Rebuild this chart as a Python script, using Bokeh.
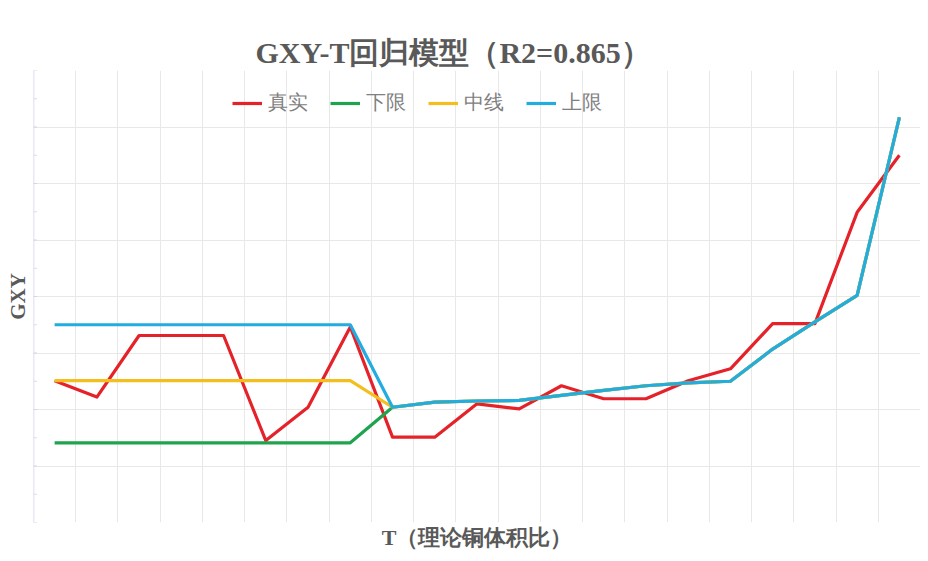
from bokeh.plotting import figure
from bokeh.models import (Range1d, FixedTicker, Legend, LegendItem, Title, Span,
                          LinearAxis)
from bokeh.embed import file_html
from bokeh.resources import INLINE

# categories (sample index, no tick labels shown in the original)
samples = list(range(21))

real  = [2.51, 2.22, 3.31, 3.31, 3.31, 1.45, 2.04, 3.46, 1.51, 1.51, 2.10,
         2.01, 2.42, 2.19, 2.19, 2.51, 2.72, 3.52, 3.52, 5.49, 6.50]
lower = [1.41, 1.41, 1.41, 1.41, 1.41, 1.41, 1.41, 1.41, 2.04, 2.13, 2.15,
         2.16, 2.25, 2.34, 2.42, 2.47, 2.50, 3.07, 3.55, 4.02, 7.17]
mid   = [2.51, 2.51, 2.51, 2.51, 2.51, 2.51, 2.51, 2.51, 2.04, 2.13, 2.15,
         2.16, 2.25, 2.34, 2.42, 2.47, 2.50, 3.07, 3.55, 4.02, 7.17]
upper = [3.50, 3.50, 3.50, 3.50, 3.50, 3.50, 3.50, 3.50, 2.04, 2.13, 2.15,
         2.16, 2.25, 2.34, 2.42, 2.47, 2.50, 3.07, 3.55, 4.02, 7.17]

series_names = ["真实", "下限", "中线", "上限"]
series_colors = ["#e5222a", "#1fa34e", "#f4bf1c", "#22ace0"]

y_ticks = [0, 1, 2, 3, 4, 5, 6, 7, 8]
y_minor = [0.5, 1.5, 2.5, 3.5, 4.5, 5.5, 6.5, 7.5]
x_bounds = [i - 0.5 for i in range(22)]

title_text = "GXY-T回归模型（R2=0.865）"
x_label = "T（理论铜体积比）"
y_label = "GXY"

p = figure(width=920, height=553, output_backend="svg", toolbar_location=None,
           title=None,
           x_range=Range1d(-0.5, 20.5), y_range=Range1d(0, 8),
           min_border_left=33, min_border_right=0, min_border_top=70,
           min_border_bottom=31)

p.outline_line_color = None
p.background_fill_color = "white"
p.border_fill_color = "white"

# axes hidden (no tick labels in the original); grids kept
p.xaxis.visible = False
p.yaxis.visible = False
p.xgrid.ticker = FixedTicker(ticks=x_bounds)
p.ygrid.ticker = FixedTicker(ticks=y_ticks)
p.xgrid.grid_line_color = "#e8e8e8"
p.ygrid.grid_line_color = "#e8e8e8"

# empty spacer between plot area and title (no ticks, no labels)
spacer = LinearAxis(ticker=FixedTicker(ticks=[]), axis_line_color=None,
                    major_tick_line_color="white", minor_tick_line_color=None,
                    major_tick_in=0, major_tick_out=34, minor_tick_out=0,
                    major_label_standoff=0)
p.add_layout(spacer, "above")

title = Title(text=title_text, align="left", offset=222, vertical_align="top",
              standoff=0, text_font="Liberation Serif", text_font_size="30px",
              text_font_style="bold", text_color="#595959")
p.add_layout(title, "above")

# left axis line and its small ticks
p.add_layout(Span(location=-0.5, dimension="height", line_color="#d4d4ee",
                  line_width=1.5))
p.scatter([-0.5] * len(y_ticks), y_ticks, marker="dash", size=7,
          line_color="#d4d4ee", line_width=1)
p.scatter([-0.5] * len(y_minor), y_minor, marker="dash", size=7,
          line_color="#dcdcf2", line_width=1)

xt = Title(text=x_label, align="center", vertical_align="top",
           text_font="Liberation Serif",
           text_font_size="22px", text_font_style="bold",
           text_color="#595959", standoff=4)
p.add_layout(xt, "below")
yt = Title(text=y_label, align="center", text_font="Liberation Serif",
           text_font_size="21px", text_font_style="bold",
           text_color="#595959", standoff=7)
p.add_layout(yt, "left")

renderers = []
for vals, col in zip([real, lower, mid, upper], series_colors):
    r = p.line(samples, vals, line_color=col, line_width=3.2,
               line_join="round")
    renderers.append(r)

legend = Legend(items=[LegendItem(label=n, renderers=[r])
                       for n, r in zip(series_names, renderers)],
                orientation="horizontal", location=(199, 406),
                padding=0, margin=0, spacing=22, label_standoff=6,
                glyph_width=30, glyph_height=20, label_height=20,
                label_text_font="Liberation Serif", label_text_font_size="20px",
                label_text_color="#808080", border_line_color=None,
                background_fill_alpha=0)
p.add_layout(legend)

open("out.html", "w").write(file_html(p, INLINE))
